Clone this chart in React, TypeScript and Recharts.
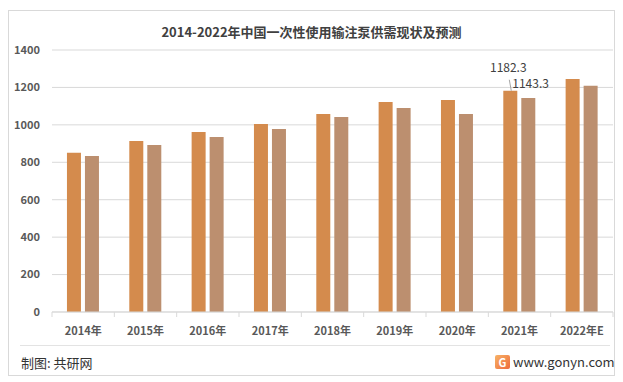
import { BarChart, Bar, XAxis, YAxis, CartesianGrid, LabelList } from 'recharts';

const years = ['2014年', '2015年', '2016年', '2017年', '2018年', '2019年', '2020年', '2021年', '2022年E'];
const supply = [851, 914, 962, 1005, 1058, 1122, 1133, 1182.3, 1245];
const demand = [834, 892, 935, 978, 1042, 1090, 1058, 1143.3, 1209];
const yTicks = [0, 200, 400, 600, 800, 1000, 1200, 1400];

const data = years.map((name, i) => ({ name, supply: supply[i], demand: demand[i] }));

const CHART_W = 607;
const CHART_H = 340;
const Y_AXIS_W = 44;
const MARGIN = { top: 40, right: 2, left: 0, bottom: 8 };
const halfBand = (CHART_W - MARGIN.left - MARGIN.right - Y_AXIS_W) / years.length / 2;

const XTick = (props: any) => {
  const { x, y, payload, index } = props;
  const last = index === years.length - 1;
  return (
    <g>
      <line x1={x - halfBand} y1={y} x2={x - halfBand} y2={y + 5} stroke="#d9d9d9" />
      {last && <line x1={x + halfBand} y1={y} x2={x + halfBand} y2={y + 5} stroke="#d9d9d9" />}
      <text x={x} y={y + 23} textAnchor="middle" fontSize={11} fontWeight="bold" fill="#595959">
        {payload.value}
      </text>
    </g>
  );
};

const supplyLabel = (props: any) => {
  const { x, y, width, value, index } = props;
  if (index !== 7) return null;
  const cx = x + width / 2;
  return (
    <g>
      <line x1={cx - 1} y1={y - 11} x2={cx + 1} y2={y} stroke="#a6a6a6" />
      <text x={cx - 2} y={y - 19} textAnchor="middle" fontSize={12} fill="#404040">
        {value}
      </text>
    </g>
  );
};

const demandLabel = (props: any) => {
  const { x, y, value, index } = props;
  if (index !== 7) return null;
  return (
    <text x={x - 9} y={y - 10} textAnchor="start" fontSize={12} fill="#404040">
      {value}
    </text>
  );
};

const App = () => {
  return (
    <div style={{ paddingTop: 2 }}>
      <div style={{ position: 'relative', width: 607, height: 366, fontFamily: '"Noto Sans CJK SC", "Noto Sans", sans-serif' }}>
        <div style={{ position: 'absolute', inset: 0, border: '1px solid #d9d9d9' }} />
        <div
          style={{
            position: 'absolute',
            top: 12,
            left: 0,
            width: CHART_W,
            textAlign: 'center',
            fontSize: 13,
            fontWeight: 'bold',
            color: '#404040',
          }}
        >
          2014-2022年中国一次性使用输注泵供需现状及预测
        </div>
        <div style={{ position: 'absolute', left: 0, top: 0 }}>
          <BarChart width={CHART_W} height={CHART_H} data={data} margin={MARGIN} barCategoryGap="24%" barGap={4}>
            <CartesianGrid vertical={false} stroke="#d9d9d9" />
            <XAxis
              dataKey="name"
              height={30}
              axisLine={{ stroke: '#d9d9d9' }}
              tickLine={false}
              tickSize={0}
              tickMargin={0}
              interval={0}
              tick={<XTick />}
            />
            <YAxis
              width={Y_AXIS_W}
              domain={[0, 1400]}
              ticks={yTicks}
              axisLine={false}
              tickLine={false}
              tickMargin={6}
              tick={{ fontSize: 11, fontWeight: 'bold', fill: '#595959' }}
            />
            <Bar dataKey="supply" fill="#d48b4d" isAnimationActive={false}>
              <LabelList dataKey="supply" content={supplyLabel} />
            </Bar>
            <Bar dataKey="demand" fill="#bc8f6f" isAnimationActive={false}>
              <LabelList dataKey="demand" content={demandLabel} />
            </Bar>
          </BarChart>
        </div>
        <div style={{ position: 'absolute', left: 12, width: 590, top: 335, borderTop: '1px solid #e3e3e3' }} />
        <div style={{ position: 'absolute', left: 13, top: 343, fontSize: 13, color: '#333' }}>制图: 共研网</div>
        <div
          style={{
            position: 'absolute',
            left: 487,
            top: 345,
            width: 15,
            height: 14,
            borderRadius: 2,
            background: 'linear-gradient(135deg, #f7b267, #ee6b3b)',
            color: '#fff',
            fontSize: 11,
            fontWeight: 'bold',
            lineHeight: '14px',
            textAlign: 'center',
          }}
        >
          G
        </div>
        <div style={{ position: 'absolute', left: 505, top: 342, fontSize: 13, color: '#333' }}>www.gonyn.com</div>
      </div>
    </div>
  );
};

export default App;
